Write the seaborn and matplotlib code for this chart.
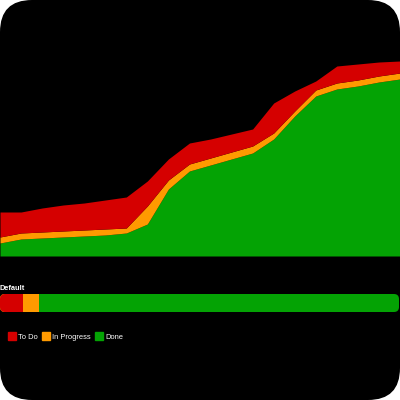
import matplotlib
matplotlib.use("Agg")
import matplotlib.pyplot as plt
from matplotlib.patches import FancyBboxPatch
from matplotlib.lines import Line2D
import matplotlib.transforms as mtransforms
import seaborn as sns
import pandas as pd
import numpy as np

# ---- data ----
days = list(range(20))
done = [13, 17, 18, 19, 20, 21, 23, 32, 67, 85, 91, 97, 103, 117, 140, 160, 167, 170, 174, 177]
in_progress = [6, 6, 6, 6, 6, 6, 5, 18, 9, 7, 7, 7, 7, 6, 5, 6, 6, 6, 6, 6]
to_do = [25, 21, 24, 26, 27, 29, 31, 25, 21, 21, 19, 18, 17, 30, 20, 9, 17, 16, 14, 12]

bar_label = "Default"
bar_categories = ["To Do", "In Progress", "Done"]
bar_values = [23, 16, 360]

colors = {"To Do": "#d50000", "In Progress": "#ff9a00", "Done": "#04a304"}

sns.set_theme(style="white")
plt.rcParams["font.family"] = ["Liberation Sans", "DejaVu Sans"]

fig = plt.figure(figsize=(4, 4), dpi=100)
fig.patch.set_facecolor("white")
bg = FancyBboxPatch((0, 0), 1, 1, boxstyle="round,pad=0,rounding_size=0.08",
                    transform=fig.transFigure, facecolor="black", edgecolor="none", zorder=-10)
fig.patches.append(bg)

# ---- stacked area ----
ax = fig.add_axes([0, 0.36, 1, 0.64])
ax.set_facecolor("none")
ax.stackplot(days, done, in_progress, to_do,
             colors=[colors["Done"], colors["In Progress"], colors["To Do"]],
             linewidth=0)
ax.set_xlim(days[0], days[-1])
ax.set_ylim(0, 256)
ax.set_axis_off()

# ---- horizontal progress bar ----
bax = fig.add_axes([0, 0.22, 0.9975, 0.045])
bax.set_facecolor("none")
cum = np.cumsum(bar_values)
total = cum[-1]
for cat, c in reversed(list(zip(bar_categories, cum))):
    df = pd.DataFrame({"label": [bar_label], "value": [c]})
    sns.barplot(data=df, x="value", y="label", orient="h", color=colors[cat],
                width=1.0, ax=bax, saturation=1, linewidth=0)
bax.set_xlim(0, total)
bax.set_ylim(0.5, -0.5)
bax.set_axis_off()
clip = FancyBboxPatch((0.0, 0.0), 399, 18, boxstyle="round,pad=0,rounding_size=5",
                      transform=mtransforms.Affine2D().translate(0, 88),
                      facecolor="none", edgecolor="none")
for p in bax.patches:
    p.set_clip_path(clip)

fig.text(0.0, 0.28, bar_label, color="white", fontsize=5.3, fontweight="bold",
         ha="left", va="center")

# ---- legend ----
handles = [Line2D([], [], marker="s", linestyle="none", markersize=5.2,
                  markerfacecolor=colors[c], markeredgecolor=colors[c]) for c in bar_categories]
leg = fig.legend(handles, bar_categories, loc="center left", bbox_to_anchor=(0.0225, 0.157),
                 ncol=3, frameon=False, fontsize=5.4, handlelength=0.9, handletextpad=0.3,
                 columnspacing=0.7, labelcolor="white", borderaxespad=0, borderpad=0)

fig.savefig("out.png", dpi=100, facecolor=fig.get_facecolor())
